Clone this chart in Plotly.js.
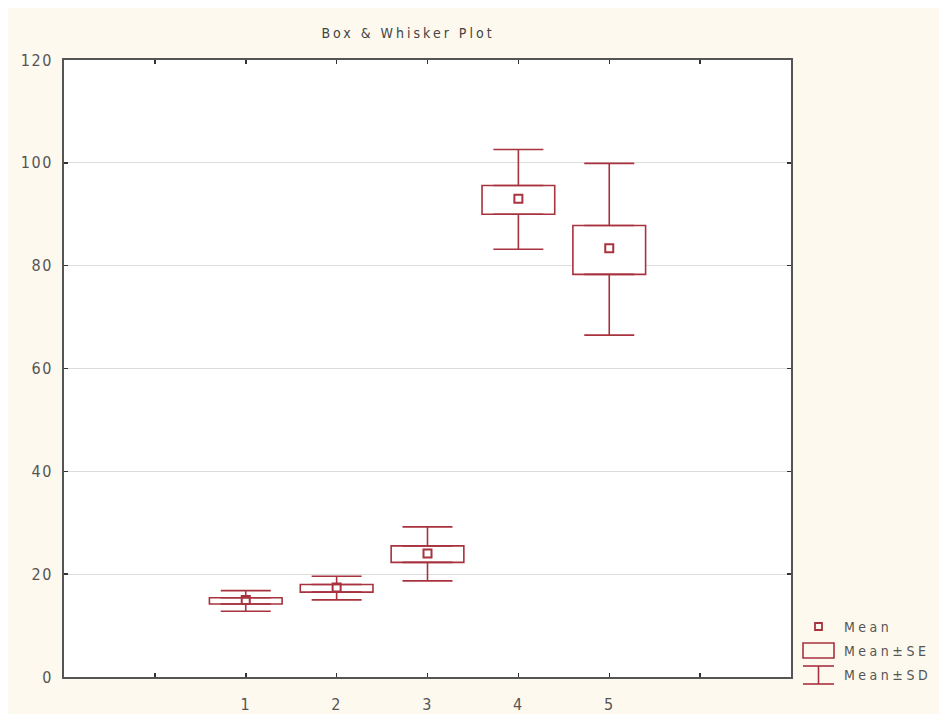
<!DOCTYPE html>
<html>
<head>
<meta charset="utf-8">
<script src="https://cdn.plot.ly/plotly-3.0.1.min.js"></script>
<style>
  html, body { margin: 0; padding: 0; background: #ffffff; }
  #plot { position: absolute; left: 8px; top: 8px; width: 931px; height: 706px; }
  #plot .xtick text, #plot .ytick text { letter-spacing: 1.5px; }
  #plot .gtitle { letter-spacing: 3px; }
  #plot .annotation-text { letter-spacing: 3.5px; }
</style>
</head>
<body>
<div id="plot"></div>
<script>
// ---- data ----
var categories = ['1', '2', '3', '4', '5'];
var meanVals   = [15.0, 17.4, 24.0, 93.0, 83.4];
var seLow      = [14.2, 16.5, 22.3, 90.0, 78.3];
var seHigh     = [15.4, 18.0, 25.5, 95.6, 87.8];
var sdLow      = [12.8, 15.0, 18.7, 83.2, 66.5];
var sdHigh     = [16.8, 19.6, 29.2, 102.6, 99.9];
var yTicks     = [0, 20, 40, 60, 80, 100, 120];
var legendLabels = ['Mean', 'Mean\u00B1SE', 'Mean\u00B1SD'];

// ---- derived ----
var xpos = categories.map(function (c, i) { return i + 1; });
var xTickVals = [0].concat(xpos).concat([xpos.length + 1]);
var xTickText = [''].concat(categories).concat(['']);

var RED = '#A8323E';
var GREY = '#555555';
var FONT = "'Liberation Sans Narrow', 'DejaVu Sans Condensed', 'Arial Narrow', sans-serif";

var boxTrace = {
  type: 'bar',
  x: xpos,
  base: seLow,
  y: seHigh.map(function (v, i) { return v - seLow[i]; }),
  width: 0.8,
  marker: { color: '#ffffff', line: { color: RED, width: 1.6 } },
  hoverinfo: 'skip',
  showlegend: false
};

var upperWhisker = {
  type: 'scatter', mode: 'markers',
  x: xpos, y: seHigh,
  marker: { size: 1, color: 'rgba(0,0,0,0)' },
  error_y: {
    type: 'data', symmetric: false,
    array: sdHigh.map(function (v, i) { return v - seHigh[i]; }),
    arrayminus: seHigh.map(function () { return 0; }),
    width: 25, thickness: 1.6, color: RED
  },
  hoverinfo: 'skip', showlegend: false
};

var lowerWhisker = {
  type: 'scatter', mode: 'markers',
  x: xpos, y: seLow,
  marker: { size: 1, color: 'rgba(0,0,0,0)' },
  error_y: {
    type: 'data', symmetric: false,
    array: seLow.map(function () { return 0; }),
    arrayminus: seLow.map(function (v, i) { return v - sdLow[i]; }),
    width: 25, thickness: 1.6, color: RED
  },
  hoverinfo: 'skip', showlegend: false
};

var meanTrace = {
  type: 'scatter', mode: 'markers',
  x: xpos, y: meanVals,
  marker: { symbol: 'square-open', size: 8, color: RED, line: { width: 2, color: RED } },
  showlegend: false
};

// ---- custom legend (page-pixel helpers -> paper coords) ----
var PL = 64, PR = 791, PT = 60, PB = 677;
function px(x) { return (x - PL) / (PR - PL); }
function py(y) { return (PB - y) / (PB - PT); }

var legendShapes = [
  { type: 'rect', xref: 'paper', yref: 'paper', x0: px(815), x1: px(822), y0: py(630), y1: py(623),
    line: { color: RED, width: 1.8 }, fillcolor: 'rgba(0,0,0,0)' },
  { type: 'rect', xref: 'paper', yref: 'paper', x0: px(803), x1: px(834), y0: py(658), y1: py(643),
    line: { color: RED, width: 1.6 }, fillcolor: 'rgba(0,0,0,0)' },
  { type: 'line', xref: 'paper', yref: 'paper', x0: px(803), x1: px(834), y0: py(666), y1: py(666),
    line: { color: RED, width: 1.6 } },
  { type: 'line', xref: 'paper', yref: 'paper', x0: px(818.5), x1: px(818.5), y0: py(666), y1: py(684),
    line: { color: RED, width: 1.6 } },
  { type: 'line', xref: 'paper', yref: 'paper', x0: px(803), x1: px(834), y0: py(684), y1: py(684),
    line: { color: RED, width: 1.6 } }
];
var legendY = [627, 651, 675];
var legendAnnotations = legendLabels.map(function (t, i) {
  return { xref: 'paper', yref: 'paper', x: px(842), y: py(legendY[i]),
    xanchor: 'left', yanchor: 'middle', showarrow: false, text: t,
    width: 100, align: 'left',
    font: { family: FONT, size: 14, color: GREY } };
});

var axisCommon = {
  showline: true, linecolor: GREY, linewidth: 2, mirror: 'allticks',
  ticks: 'inside', ticklen: 4, tickwidth: 1.5, tickcolor: '#333333',
  zeroline: false, fixedrange: true,
  tickfont: { family: FONT, size: 16, color: GREY }
};

var layout = {
  width: 931, height: 706,
  margin: { l: 56, r: 148, t: 52, b: 37 },
  paper_bgcolor: '#FDF9EF',
  plot_bgcolor: '#ffffff',
  title: {
    text: 'Box & Whisker Plot',
    font: { family: FONT, size: 14, color: '#444444' },
    x: px(408), xref: 'paper', xanchor: 'center',
    y: (706 - 25) / 706, yref: 'container', yanchor: 'middle'
  },
  xaxis: Object.assign({}, axisCommon, {
    range: [-1, xpos.length + 2],
    tickmode: 'array', tickvals: xTickVals, ticktext: xTickText,
    showgrid: false, ticklabelstandoff: 12
  }),
  yaxis: Object.assign({}, axisCommon, {
    range: [yTicks[0], yTicks[yTicks.length - 1]],
    tickmode: 'array', tickvals: yTicks,
    showgrid: true, gridcolor: '#DCDCDC', gridwidth: 1,
    ticklabelstandoff: 6
  }),
  barmode: 'overlay',
  showlegend: false,
  shapes: legendShapes,
  annotations: legendAnnotations
};

Plotly.newPlot('plot', [boxTrace, upperWhisker, lowerWhisker, meanTrace], layout,
  { displayModeBar: false, staticPlot: true });
</script>
</body>
</html>
